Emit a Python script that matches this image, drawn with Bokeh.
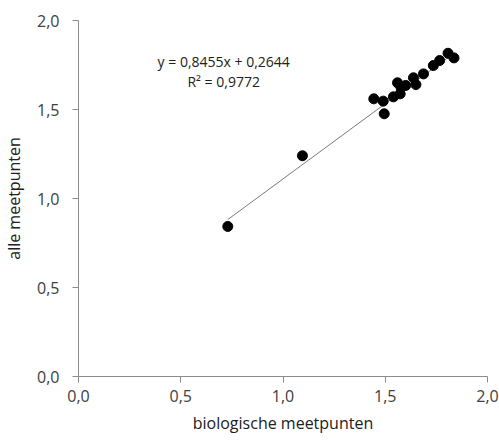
from bokeh.plotting import figure
from bokeh.models import Range1d, FixedTicker, Label, CustomJSTickFormatter
from bokeh.embed import file_html
from bokeh.resources import INLINE

# biologische meetpunten (x) versus alle meetpunten (y)
bio = [0.73, 1.095, 1.444, 1.49, 1.495, 1.54, 1.56, 1.573, 1.577, 1.60,
       1.638, 1.65, 1.687, 1.735, 1.766, 1.807, 1.836]
alle = [0.843, 1.24, 1.560, 1.547, 1.476, 1.571, 1.65, 1.588, 1.625, 1.635,
        1.678, 1.64, 1.70, 1.747, 1.775, 1.816, 1.79]

# linear trend
slope = 0.8455
intercept = 0.2644
r2 = 0.9772

ticks = [0.0, 0.5, 1.0, 1.5, 2.0]

FONT = "Open Sans"
AXIS_COL = "#8c8c8c"
TEXT_COL = "#404040"

p = figure(width=499, height=442, output_backend="svg", toolbar_location=None,
           x_range=Range1d(0, 2), y_range=Range1d(0, 2),
           min_border_left=76, min_border_right=12, min_border_top=20,
           min_border_bottom=66)
p.outline_line_color = None
p.grid.visible = False

fmt = CustomJSTickFormatter(code="return tick.toFixed(1).replace('.', ',');")
for ax in (p.xaxis[0], p.yaxis[0]):
    ax.ticker = FixedTicker(ticks=ticks)
    ax.formatter = fmt
    ax.axis_line_color = AXIS_COL
    ax.major_tick_line_color = AXIS_COL
    ax.major_tick_in = 0
    ax.major_tick_out = 6
    ax.minor_tick_line_color = None
    ax.major_label_text_font = FONT
    ax.major_label_text_font_size = "16px"
    ax.major_label_text_color = TEXT_COL
    ax.axis_label_text_font = FONT
    ax.axis_label_text_font_size = "16px"
    ax.axis_label_text_font_style = "normal"
    ax.axis_label_text_color = "#202020"

p.xaxis.axis_label = "biologische meetpunten"
p.yaxis.axis_label = "alle meetpunten"
p.xaxis.major_label_standoff = 7
p.yaxis.major_label_standoff = 13
p.xaxis.axis_label_standoff = 7
p.yaxis.axis_label_standoff = 9

# trend line over the range of the data
x0, x1 = min(bio), max(bio)
p.line([x0, x1], [slope * x0 + intercept, slope * x1 + intercept],
       line_color="#7a7a7a", line_width=1)

p.scatter(bio, alle, size=10, color="black")

eq = "y = " + f"{slope:.4f}".replace(".", ",") + "x + " + f"{intercept:.4f}".replace(".", ",")
rr = "R² = " + f"{r2:.4f}".replace(".", ",")
p.add_layout(Label(x=0.71, y=1.77, text=eq,
                   text_align="center", text_baseline="middle",
                   text_font=FONT, text_font_size="14px", text_color="#202020"))
p.add_layout(Label(x=0.71, y=1.66, text=rr,
                   text_align="center", text_baseline="middle",
                   text_font=FONT, text_font_size="14px", text_color="#202020"))

open("out.html", "w").write(file_html(p, INLINE))
